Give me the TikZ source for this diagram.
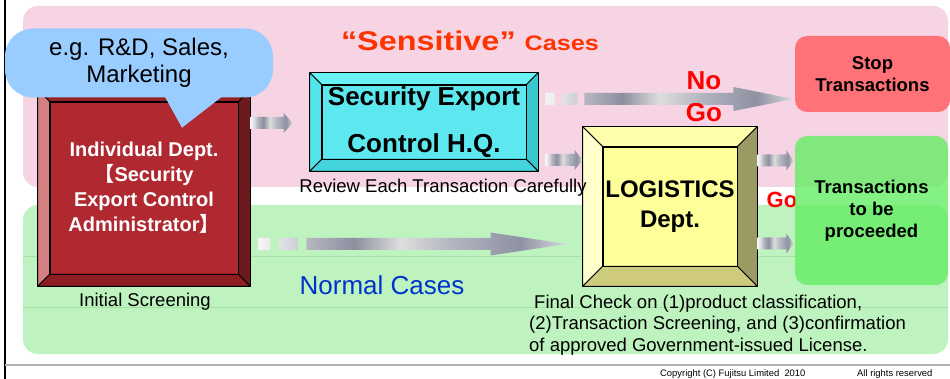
\documentclass[tikz,border=0pt]{standalone}
\usepackage{fontspec}
\setmainfont{Liberation Sans}
\newfontfamily\cjk{Noto Sans CJK JP}
\usepackage{graphicx}
\usepackage{tikz}
\usetikzlibrary{calc}

\definecolor{pinkbg}{RGB}{246,212,228}
\definecolor{greenbg}{RGB}{190,242,190}
\definecolor{gridgreen}{RGB}{160,228,160}
\definecolor{bubblecol}{RGB}{153,204,255}
\definecolor{redface}{RGB}{176,40,48}
\definecolor{redtop}{RGB}{150,34,40}
\definecolor{redleft}{RGB}{212,128,130}
\definecolor{redright}{RGB}{108,26,30}
\definecolor{redbottom}{RGB}{140,30,36}
\definecolor{cyanface}{RGB}{92,232,238}
\definecolor{cyantop}{RGB}{104,242,246}
\definecolor{cyanleft}{RGB}{84,228,236}
\definecolor{cyanright}{RGB}{56,200,206}
\definecolor{cyanbottom}{RGB}{66,212,218}
\definecolor{yelface}{RGB}{255,255,153}
\definecolor{yeltop}{RGB}{255,255,172}
\definecolor{yelleft}{RGB}{255,255,204}
\definecolor{yelright}{RGB}{156,154,100}
\definecolor{yelbottom}{RGB}{206,204,124}
\definecolor{stopred}{RGB}{255,114,120}
\definecolor{gogreen}{RGB}{100,238,100}
\definecolor{sensred}{RGB}{255,51,0}
\definecolor{normblue}{RGB}{0,51,204}

% metallic grey of the block arrows
\pgfdeclarehorizontalshading{metal}{100bp}{rgb(0bp)=(.96,.96,.96); rgb(25bp)=(.96,.96,.96);
  rgb(26.5bp)=(.93,.93,.93); rgb(28bp)=(.89,.89,.91); rgb(31bp)=(.82,.82,.85);
  rgb(32.75bp)=(.72,.72,.76); rgb(40.5bp)=(.55,.56,.62); rgb(48bp)=(.87,.87,.87);
  rgb(56bp)=(.71,.72,.76); rgb(62.5bp)=(.62,.63,.69); rgb(67.5bp)=(.56,.57,.63);
  rgb(75bp)=(.85,.86,.88); rgb(100bp)=(.85,.86,.88)}

% #1 node, #2 bevel width, #3-#6 top/left/right/bottom colours
\newcommand{\bevelframe}[6]{%
  \filldraw[bevel, fill=#3] (#1.north west) -- ++(-#2,-#2) -- ($(#1.north east)+(#2,-#2)$) -- (#1.north east) -- cycle;
  \filldraw[bevel, fill=#4] (#1.north west) -- ++(-#2,-#2) -- ($(#1.south west)+(-#2,#2)$) -- (#1.south west) -- cycle;
  \filldraw[bevel, fill=#5] (#1.north east) -- ++(#2,-#2) -- ($(#1.south east)+(#2,#2)$) -- (#1.south east) -- cycle;
  \filldraw[bevel, fill=#6] (#1.south west) -- ++(-#2,#2) -- ($(#1.south east)+(#2,#2)$) -- (#1.south east) -- cycle;
}
% #1 from, #2 to, #3 dashed tail length, #4 head length, #5 head half height
\newcommand{\fatarrow}[5]{%
  \shade[shading=metal] let \p1=#1, \p2=#2 in
    (\x1,\y1-6pt) rectangle (\x1+0.25*#3pt,\y1+6pt)
    (\x1+0.43*#3pt,\y1-6pt) rectangle (\x1+0.82*#3pt,\y1+6pt)
    (\x1+#3pt,\y1-6pt) -- (\x2-#4pt,\y1-6pt) -- (\x2-#4pt,\y1-#5pt) -- (\x2,\y1)
    -- (\x2-#4pt,\y1+#5pt) -- (\x2-#4pt,\y1+6pt) -- (\x1+#3pt,\y1+6pt) -- cycle;
}

\begin{document}
\begin{tikzpicture}[x=1pt, y=-1pt,
  region/.style={rounded corners=15pt},
  face/.style={draw=black, line width=0.8pt, inner sep=0pt, align=center},
  bevel/.style={draw=black, line width=0.8pt, line join=round},
  result/.style={rounded corners=12pt, inner sep=0pt, align=center, font=\fontsize{18.5}{22}\selectfont\bfseries},
  note/.style={inner sep=0pt, font=\fontsize{18.5}{21.5}\selectfont}
]
\useasboundingbox (0,0) rectangle (950,379);
% background bands
\fill[pinkbg, region] (23,6) rectangle (948,187);
\fill[greenbg, region] (23,205) rectangle (948,354);
\draw[gridgreen, line width=0.6pt] (23,256) -- (948,256) (23,307) -- (948,307);
\draw[line width=1.5pt] (5,0) -- (5,379);
\draw[gray!60, line width=1.2pt] (5,365) -- (950,365);

% departments
\node[face, fill=redface, text=white, minimum width=188, minimum height=172, font=\fontsize{20}{25}\selectfont\bfseries] (indiv) at (144,188) {Individual Dept.\\{\cjk 【}Security\\Export Control\\Administrator{\cjk 】}};
\bevelframe{indiv}{12}{redtop}{redleft}{redright}{redbottom}
\node[fill=bubblecol, rounded corners=28pt, minimum width=268, minimum height=69, inner sep=0pt, align=center, font=\fontsize{24}{27}\selectfont] (bubble) at (139,63) {e.g. R\&D, Sales,\\Marketing};
\fill[bubblecol] ($(bubble.south)+(22,-8)$) -- ($(bubble.south)+(43,30)$) -- ($(bubble.south)+(92,-8)$) -- cycle;
\node[face, fill=cyanface, minimum width=204, minimum height=74, font=\fontsize{26}{47}\selectfont\bfseries] (hq) at (424,122) {Security Export\\Control H.Q.};
\bevelframe{hq}{12}{cyantop}{cyanleft}{cyanright}{cyanbottom}
\node[face, fill=yelface, minimum width=134, minimum height=119, font=\fontsize{24}{30}\selectfont\bfseries] (logi) at (670,206.5) {LOGISTICS\\Dept.};
\bevelframe{logi}{20}{yeltop}{yelleft}{yelright}{yelbottom}

% block arrows
\fatarrow{($(indiv.east)+(12,-65)$)}{($(hq.west)+(-29,0)$)}{0}{9}{10}
\fatarrow{($(hq.east)+(19,-23)$)}{($(logi.east)+(56,0)$)}{39}{60}{12}
\fatarrow{($(hq.east)+(19,38)$)}{($(logi.west)+(-20,0)$)}{0}{8}{10}
\fatarrow{($(logi.east)+(20,-46)$)}{($(logi.east)+(56,0)$)}{0}{7}{10}
\fatarrow{($(logi.east)+(20,37)$)}{($(logi.east)+(56,0)$)}{0}{7}{10}
\fatarrow{($(indiv.east)+(20,56)$)}{($(logi.west)+(-36,0)$)}{48}{76}{11.5}

% labels
\node[text=sensred, anchor=base, inner sep=0pt] (senslbl) at (470,51) {\scalebox{1.2}[1]{\fontsize{27}{30}\selectfont\bfseries “Sensitive” {\fontsize{21}{24}\selectfont Cases}}};
\node[font=\fontsize{26}{32}\selectfont\bfseries, text=red, align=center, inner sep=0pt] (nogo) at (704,97) {No\\Go};
\node[font=\fontsize{22}{26}\selectfont\bfseries, text=red, inner sep=0pt] (go) at (782,200) {Go};
\node[note] (review) at (443,188) {Review Each Transaction Carefully};
\node[note] (initial) at (145,302) {Initial Screening};
\node[font=\fontsize{26}{30}\selectfont, text=normblue, inner sep=0pt] (normal) at (382,285) {Normal Cases};
\node[note, align=left, anchor=west] (final) at (529,325) {\hspace{5pt}Final Check on (1)product classification,\\(2)Transaction Screening, and (3)confirmation\\of approved Government-issued License.};

% outcomes
\node[result, fill=stopred, minimum width=155, minimum height=76] (stop) at (872.5,74) {Stop\\Transactions};
\node[result, fill=gogreen, fill opacity=0.8, text opacity=1, minimum width=153, minimum height=149] (proceed) at (871.5,210.5) {Transactions\\to be\\proceeded};

\node[font=\fontsize{9.4}{11}\selectfont, anchor=base west, inner sep=0pt] (copy) at (660,376) {Copyright (C) Fujitsu Limited\ \ 2010};
\node[font=\fontsize{9.4}{11}\selectfont, anchor=base west, inner sep=0pt] (rights) at (857,376) {All rights reserved};
\end{tikzpicture}
\end{document}
